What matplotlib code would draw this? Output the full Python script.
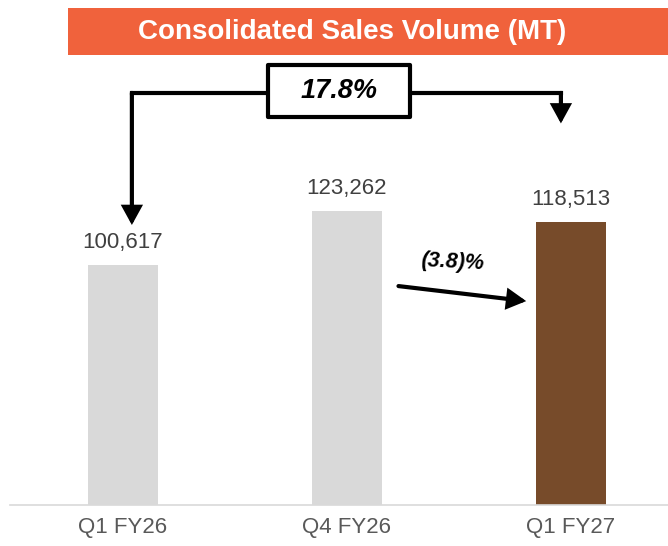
import matplotlib
matplotlib.use("Agg")
import matplotlib.pyplot as plt
from matplotlib.patches import Rectangle

plt.rcParams['font.family'] = ['Liberation Sans', 'DejaVu Sans']

categories = ["Q1 FY26", "Q4 FY26", "Q1 FY27"]
values = [100617, 123262, 118513]
value_labels = ["100,617", "123,262", "118,513"]
bar_colors = ["#D9D9D9", "#D9D9D9", "#774B2A"]
growth_yoy = "17.8%"
growth_qoq = "(3.8)%"
title = "Consolidated Sales Volume (MT)"

W, H = 668, 546
fig = plt.figure(figsize=(W / 100, H / 100), dpi=100)

# axes placed in pixel geometry
ax_left, ax_right, ax_bottom, ax_top = 10, 668, 505, 60
ax = fig.add_axes([ax_left / W, (H - ax_bottom) / H, (ax_right - ax_left) / W, (ax_bottom - ax_top) / H])

x = list(range(len(categories)))
ax.bar(x, values, width=0.3125, color=bar_colors, zorder=2)
ax.set_xlim(-0.504, 2.433)
ax.set_ylim(0, 186600)

for xi, v, lab in zip(x, values, value_labels):
    ax.annotate(lab, (xi, v), xytext=(0, 9), textcoords="offset points",
                ha="center", va="bottom", fontsize=16, color="#404040")

ax.set_xticks(x)
ax.set_xticklabels(categories, fontsize=16, color="#595959")
ax.tick_params(axis="x", length=0, pad=9)
ax.set_yticks([])
for s in ["top", "right", "left"]:
    ax.spines[s].set_visible(False)
ax.spines["bottom"].set_color("#D9D9D9")
ax.spines["bottom"].set_linewidth(1.2)

# banner
fig.patches.append(Rectangle((68 / W, (H - 55) / H), 1 - 68 / W, 47 / H,
                             transform=fig.transFigure, facecolor="#F0623C", edgecolor="none"))
fig.text(352 / W, (H - 32) / H, title, ha="center", va="center",
         fontsize=20, fontweight="bold", color="white")

# bracket arrow for 17.8%
ybr = 172800
xl, xr = x[0] + 0.04, x[2] - 0.045
ax.plot([xl, xr], [ybr, ybr], color="black", lw=3, solid_capstyle="projecting",
        clip_on=False, zorder=3)
arrow_kw = dict(arrowstyle="-|>,head_length=1.0,head_width=0.55", lw=3, color="black",
                shrinkA=0, shrinkB=0, joinstyle="miter")
ax.annotate("", xy=(xl, values[0] + 16800), xytext=(xl, ybr),
            arrowprops=arrow_kw, annotation_clip=False)
ax.annotate("", xy=(xr, 160000), xytext=(xr, ybr),
            arrowprops=arrow_kw, annotation_clip=False)
ax.add_patch(Rectangle((0.647, 162700), 1.281 - 0.647, 184500 - 162700,
                       facecolor="white", edgecolor="black", lw=3, zorder=4, clip_on=False,
                       joinstyle="round"))
ax.text((0.647 + 1.281) / 2, (162700 + 184500) / 2, growth_yoy, ha="center", va="center",
        fontsize=19.5, fontweight="bold", fontstyle="italic", color="black", zorder=5)

# qoq arrow
ax.annotate("", xy=(1.80, 85500), xytext=(1.23, 91800),
            arrowprops=arrow_kw, annotation_clip=False)
ax.text(1.47, 101800, growth_qoq, ha="center", va="center", fontsize=15.5,
        fontweight="bold", fontstyle="italic", color="black", rotation=-3)

fig.savefig("out.png", dpi=100)
